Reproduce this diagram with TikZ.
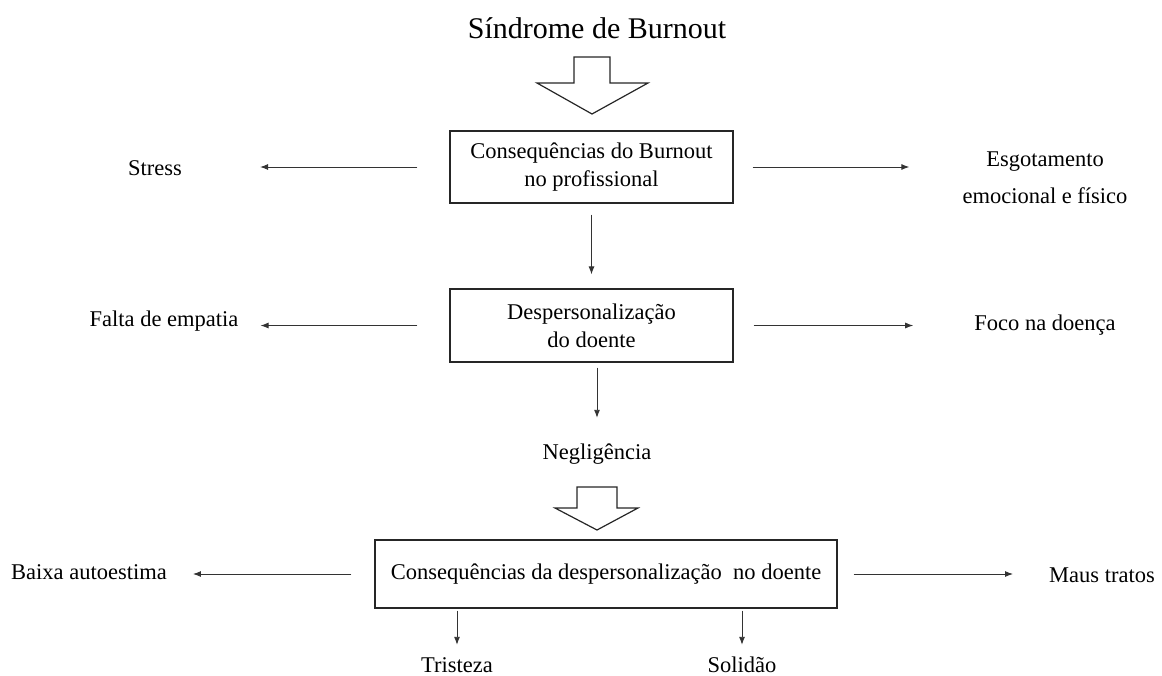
\documentclass[tikz,border=0pt]{standalone}
\usepackage{fontspec}
\setmainfont{Liberation Serif}
\usetikzlibrary{arrows.meta}
\begin{document}
\begin{tikzpicture}[x=1pt,y=-1pt,
  lbl/.style={inner sep=0pt,text height=15pt,text depth=5pt,font=\fontsize{22.5}{28}\selectfont},
  blbl/.style={inner sep=0pt,anchor=base,text height=15pt,text depth=0pt,font=\fontsize{22.5}{28}\selectfont},
  mlbl/.style={inner sep=0pt,align=center,font=\fontsize{22.5}{37}\selectfont},
  boxnode/.style={draw=black!85,line width=1.2pt,inner sep=0pt,align=center,font=\fontsize{22.5}{28}\selectfont},
  arr/.style={draw=black!80,line width=0.9pt,-{Latex[length=8pt,width=6pt]}},
  hollow/.style={draw=black!85,line width=1.2pt,fill=white,line join=miter}]
\useasboundingbox (0,0) rectangle (1162,675);

% title
\node[anchor=base,inner sep=0pt,font=\fontsize{30}{36}\selectfont] (title) at (597,38) {Síndrome de Burnout};

% hollow arrows
\draw[hollow] (574,57) -- (610,57) -- (610,83) -- (648,83) -- (592,114) -- (537,83) -- (574,83) -- cycle;
\draw[hollow] (577,487) -- (617,487) -- (617,508) -- (638,508) -- (597,530) -- (555,508) -- (577,508) -- cycle;

% boxes
\node[boxnode,minimum width=283pt,minimum height=72pt] (b1) at (591.5,167) {Consequências do Burnout\\no profissional};
\node[boxnode,minimum width=283pt,minimum height=73pt] (b2) at (591.5,325.5) {Despersonalização\\do doente};
\node[boxnode,minimum width=462pt,minimum height=68pt] (b3) at (606,574) {Consequências da despersonalização\ \ no doente};

% labels
\node[lbl] (stress) at (155,170) {Stress};
\node[mlbl] (esg) at (1045,178) {Esgotamento\\emocional e físico};
\node[lbl] (falta) at (164,321) {Falta de empatia};
\node[lbl] (foco) at (1045,325) {Foco na doença};
\node[lbl] (neg) at (597,454) {Negligência};
\node[lbl] (baixa) at (89,574) {Baixa autoestima};
\node[lbl] (maus) at (1102,577) {Maus tratos};
\node[blbl] (trist) at (457,672) {Tristeza};
\node[blbl] (solid) at (742,672) {Solidão};

% connectors
\draw[arr,shorten <=32pt,shorten >=78pt] (b1.west) -- (b1.west -| stress.east);
\draw[arr,shorten <=19pt,shorten >=53pt] (b1.east) -- (b1.east -| esg.west);
\draw[arr,shorten <=11pt,shorten >=14pt] (b1.south) -- (b2.north);
\draw[arr,shorten <=32pt,shorten >=22pt] (b2.west) -- (b2.west -| falta.east);
\draw[arr,shorten <=20pt,shorten >=61pt] (b2.east) -- (b2.east -| foco.west);
\draw[arr,shorten <=5pt,shorten >=26pt] (neg |- b2.south) -- (neg.north);
\draw[arr,shorten <=23pt,shorten >=26pt] (b3.west) -- (b3.west -| baixa.east);
\draw[arr,shorten <=16pt,shorten >=36pt] (b3.east) -- (b3.east -| maus.west);
\draw[arr,shorten <=2pt,shorten >=12pt] (trist |- b3.south) -- (trist.north);
\draw[arr,shorten <=2pt,shorten >=12pt] (solid |- b3.south) -- (solid.north);
\end{tikzpicture}
\end{document}
